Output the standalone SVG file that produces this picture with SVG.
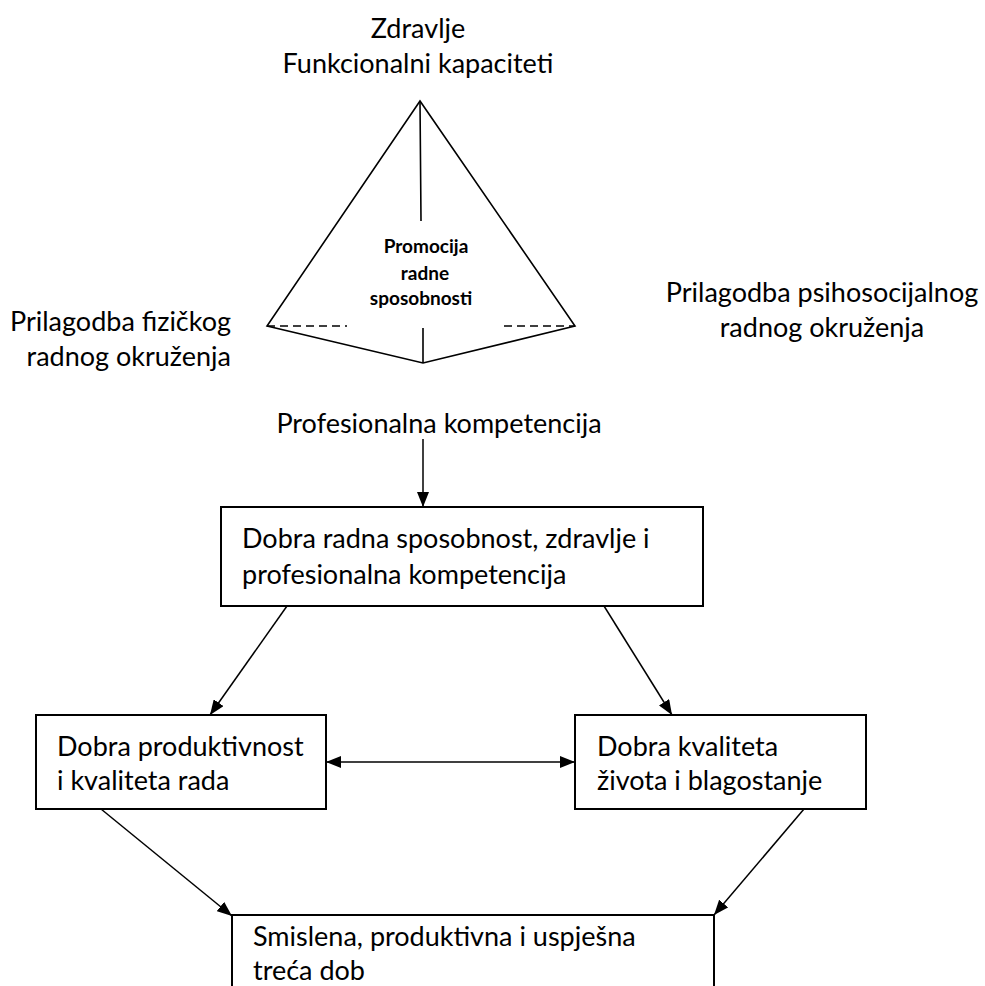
<svg xmlns="http://www.w3.org/2000/svg" width="985" height="986" viewBox="0 0 985 986">
<style>
text{font-family:Lato,"Open Sans","Liberation Sans",sans-serif;font-size:27px;fill:#000}
.b{font-weight:bold;font-size:19px}
.box{fill:#fff;stroke:#000;stroke-width:2}
.ln{fill:none;stroke:#000;stroke-width:1.6}
.dash{fill:none;stroke:#000;stroke-width:1.5;stroke-dasharray:8 5}
.c{stroke:#000;stroke-width:1.5;fill:none}
</style>
<defs>
<marker id="ah" markerWidth="15" markerHeight="12" refX="15" refY="6" orient="auto-start-reverse" markerUnits="userSpaceOnUse"><path d="M0,0 L15,6 L0,12 z" fill="#000"/></marker>
</defs>
<rect width="985" height="986" fill="#fff"/>
<g id="top-label">
<text x="418" y="38" text-anchor="middle">Zdravlje</text>
<text x="418" y="73" text-anchor="middle">Funkcionalni kapaciteti</text>
</g>
<g id="pyramid">
<path class="ln" d="M420,101 L267,326 L423,363 L575,326 Z"/>
<path class="ln" d="M420,101 L421,221 M423,328 L423,363"/>
<path class="dash" d="M267,326 L347,326 M504,326 L575,326"/>
<text class="b" x="426" y="253" text-anchor="middle">Promocija</text>
<text class="b" x="425" y="280" text-anchor="middle">radne</text>
<text class="b" x="421" y="305" text-anchor="middle">sposobnosti</text>
</g>
<g id="left-label">
<text x="231" y="331" text-anchor="end">Prilagodba fizičkog</text>
<text x="231" y="366" text-anchor="end">radnog okruženja</text>
</g>
<g id="right-label">
<text x="822" y="302" text-anchor="middle">Prilagodba psihosocijalnog</text>
<text x="822" y="337" text-anchor="middle">radnog okruženja</text>
</g>
<g id="competence-label">
<text x="439" y="433" text-anchor="middle">Profesionalna kompetencija</text>
</g>
<g id="box-work-ability">
<rect class="box" x="221" y="507" width="482" height="99"/>
<text x="242" y="548">Dobra radna sposobnost, zdravlje i</text>
<text x="242" y="584">profesionalna kompetencija</text>
</g>
<g id="box-productivity">
<rect class="box" x="36" y="715" width="290" height="94"/>
<text x="57" y="756">Dobra produktivnost</text>
<text x="57" y="790">i kvaliteta rada</text>
</g>
<g id="box-quality">
<rect class="box" x="575" y="715" width="291" height="94"/>
<text x="597" y="756">Dobra kvaliteta</text>
<text x="597" y="790">života i blagostanje</text>
</g>
<g id="box-third-age">
<rect class="box" x="232" y="915" width="482" height="90"/>
<text x="253" y="946">Smislena, produktivna i uspješna</text>
<text x="253" y="980">treća dob</text>
</g>
<g id="connectors">
<path class="c" d="M423,439 L423,507" marker-end="url(#ah)"/>
<path class="c" d="M287,606 L210,715" marker-end="url(#ah)"/>
<path class="c" d="M604,606 L672,715" marker-end="url(#ah)"/>
<path class="c" d="M326,762 L575,762" marker-start="url(#ah)" marker-end="url(#ah)"/>
<path class="c" d="M101,809 L232,916" marker-end="url(#ah)"/>
<path class="c" d="M804,809 L714,915" marker-end="url(#ah)"/>
</g>
</svg>
